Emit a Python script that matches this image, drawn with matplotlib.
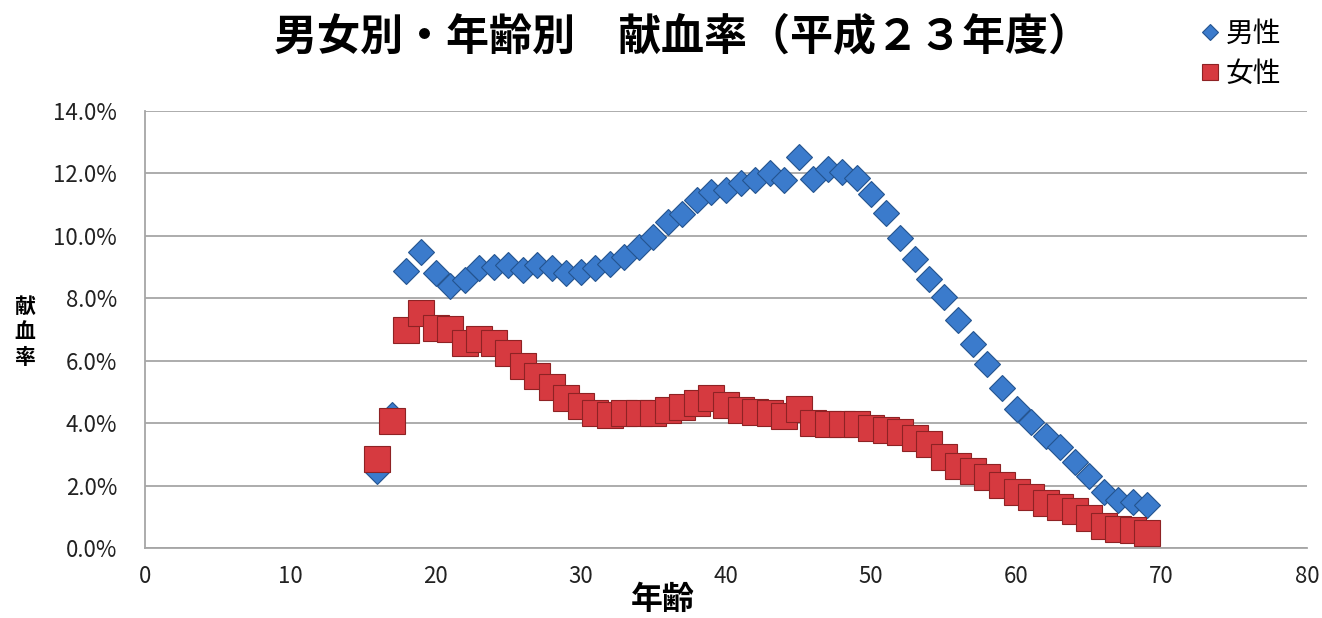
import matplotlib
matplotlib.use("Agg")
import matplotlib.pyplot as plt
from matplotlib.ticker import FuncFormatter, MultipleLocator

plt.rcParams['font.family'] = ['Noto Sans CJK JP', 'DejaVu Sans']

ages = list(range(16, 70))
male = [2.46, 4.26, 8.88, 9.49, 8.80, 8.40, 8.59, 8.96, 9.01, 9.07,
        8.91, 9.07, 8.96, 8.82, 8.85, 8.96, 9.10, 9.33, 9.65, 9.97,
        10.45, 10.70, 11.15, 11.40, 11.47, 11.70, 11.79, 12.00, 11.79, 12.54,
        11.81, 12.13, 12.06, 11.85, 11.33, 10.72, 9.92, 9.26, 8.61, 8.03,
        7.31, 6.54, 5.90, 5.12, 4.45, 4.05, 3.59, 3.25, 2.77, 2.31,
        1.80, 1.54, 1.46, 1.38]
female = [2.86, 4.07, 6.98, 7.54, 7.06, 7.02, 6.58, 6.70, 6.58, 6.24,
          5.82, 5.51, 5.16, 4.81, 4.55, 4.33, 4.27, 4.33, 4.33, 4.33,
          4.42, 4.52, 4.64, 4.81, 4.59, 4.41, 4.36, 4.34, 4.24, 4.45,
          4.00, 3.98, 3.96, 3.97, 3.84, 3.78, 3.71, 3.52, 3.33, 2.92,
          2.64, 2.47, 2.27, 2.01, 1.79, 1.64, 1.44, 1.31, 1.19, 0.97,
          0.70, 0.62, 0.57, 0.49]

title = '男女別・年齢別　献血率（平成２３年度）'
series_names = ['男性', '女性']
xlabel = '年齢'
ylabel = '献\n血\n率'

fig = plt.figure(figsize=(13.22, 6.18), dpi=100)
ax = fig.add_axes([145/1322, 1-548/618, (1307-145)/1322, (548-111)/618])

ax.plot(ages, male, linestyle='none', marker='D', markersize=13.2,
        markerfacecolor='#3b7bcc', markeredgecolor='#24548f', markeredgewidth=0.8,
        label=series_names[0], zorder=3)
ax.plot(ages, female, linestyle='none', marker='s', markersize=19,
        markerfacecolor='#d63a40', markeredgecolor='#8e2224', markeredgewidth=0.8,
        label=series_names[1], zorder=4)

ax.set_xlim(0, 80)
ax.set_ylim(0, 14)
ax.xaxis.set_major_locator(MultipleLocator(10))
ax.yaxis.set_major_locator(MultipleLocator(2))
ax.yaxis.set_major_formatter(FuncFormatter(lambda v, p: f'{v:.1f}%'))
ax.grid(axis='y', color='#a6a6a6', linewidth=1.3)
ax.set_axisbelow(True)
for s in ['top', 'right']:
    ax.spines[s].set_visible(False)
for s in ['left', 'bottom']:
    ax.spines[s].set_color('#a6a6a6')
    ax.spines[s].set_linewidth(1.3)
ax.tick_params(axis='both', length=0, labelsize=16, colors='#222222')
ax.tick_params(axis='y', pad=20)
ax.tick_params(axis='x', pad=12)

fig.text(682/1322, 1-36/618, title, ha='center', va='center',
         fontsize=31, fontweight='bold')
fig.text(663/1322, 1-600/618, xlabel, ha='center', va='center',
         fontsize=23, fontweight='bold')
fig.text(25/1322, 1-332/618, ylabel, ha='center', va='center',
         fontsize=15, fontweight='bold', linespacing=1.25)

fig.legend(loc='upper right', bbox_to_anchor=(1292/1322, 1-8/618),
           frameon=False, fontsize=20, handletextpad=0.15, labelspacing=0.35,
           handlelength=0.8, markerscale=0.62, borderaxespad=0)

fig.savefig('out.png', dpi=100)
